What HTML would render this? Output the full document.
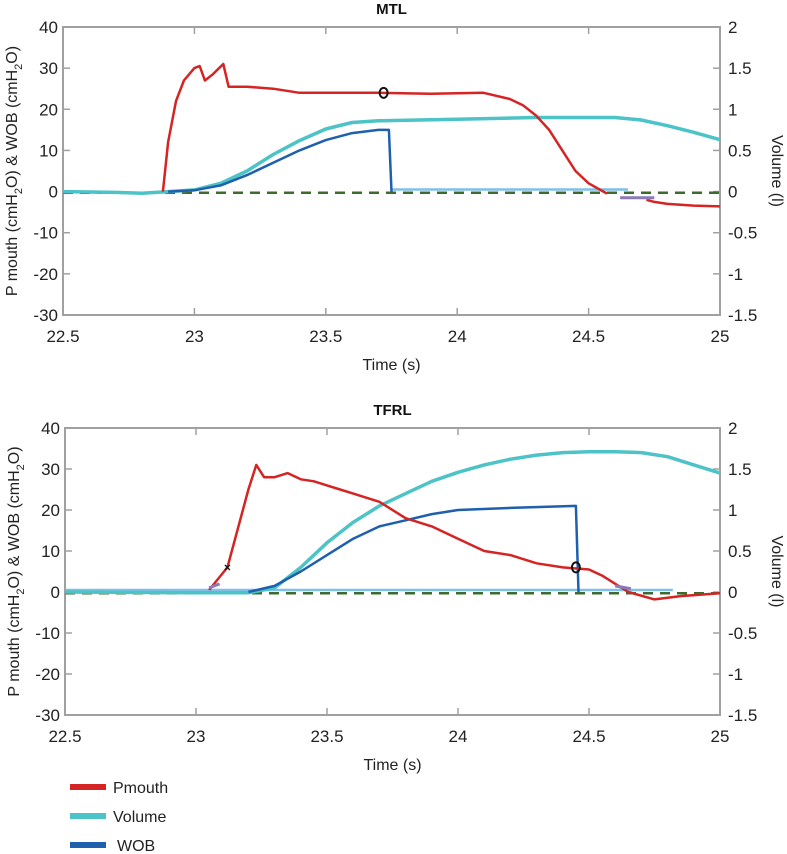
<!DOCTYPE html>
<html><head><meta charset="utf-8"><style>
html,body{margin:0;padding:0;background:#fff;}
svg{display:block;font-family:"Liberation Sans",sans-serif;}
</style></head><body>
<svg id="fig" width="787" height="854" viewBox="0 0 787 854" xmlns="http://www.w3.org/2000/svg"></svg>
<script>
// ---- data ----
const xTicks=[22.5,23,23.5,24,24.5,25];
const xTickLabels=["22.5","23","23.5","24","24.5","25"];
const yTicks=[40,30,20,10,0,-10,-20,-30];
const yTickLabels=["40","30","20","10","0","-10","-20","-30"];
const vTickLabels=["2","1.5","1","0.5","0","-0.5","-1","-1.5"];

const mtlPmouthT=[22.88,22.9,22.93,22.96,23.0,23.02,23.04,23.07,23.11,23.13,23.2,23.3,23.4,23.5,23.7,23.9,24.1,24.2,24.25,24.3,24.35,24.4,24.45,24.5,24.57];
const mtlPmouthV=[0,12,22,27,30,30.5,27,28.5,31,25.5,25.5,25,24,24,24,23.8,24,22.5,21,18.5,15,10,5,2,-0.5];
const mtlPmouth2T=[24.72,24.75,24.8,24.9,25.0];
const mtlPmouth2V=[-2,-2.5,-3,-3.4,-3.6];
const mtlPurpleT=[24.62,24.75];
const mtlPurpleV=[-1.5,-1.5];
const mtlVolumeT=[22.5,22.7,22.8,22.9,23.0,23.1,23.2,23.3,23.4,23.5,23.6,23.7,24.0,24.3,24.6,24.7,24.8,24.9,25.0];
const mtlVolumeV=[0,-0.01,-0.02,0,0.02,0.1,0.25,0.45,0.62,0.76,0.84,0.86,0.88,0.9,0.9,0.87,0.8,0.72,0.63];
const mtlWobT=[22.9,23.0,23.1,23.2,23.3,23.4,23.5,23.6,23.7,23.74,23.75];
const mtlWobV=[0,0.3,1.5,4,7,10,12.5,14.2,15,15,0];
const mtlWobFlatT=[23.75,24.65];
const mtlWobFlatV=[0.5,0.5];
const mtlMarkT=[23.72], mtlMarkV=[24];

const tfrlPmouthT=[23.05,23.12,23.2,23.23,23.26,23.3,23.35,23.4,23.45,23.5,23.55,23.6,23.7,23.8,23.9,24.0,24.1,24.2,24.3,24.4,24.5,24.55,24.6,24.65,24.75,24.85,25.0];
const tfrlPmouthV=[0.5,6,25,31,28,28,29,27.5,27,26,25,24,22,18,16,13,10,9,7,6,5.5,4,2,0,-1.8,-1,-0.3];
const tfrlPurpleT=[23.05,23.09,24.6,24.66];
const tfrlPurpleV=[1,2,1.5,0.8];
const tfrlVolumeT=[22.5,23.0,23.2,23.3,23.4,23.5,23.6,23.7,23.8,23.9,24.0,24.1,24.2,24.3,24.4,24.5,24.6,24.7,24.8,24.9,25.0];
const tfrlVolumeV=[0,-0.01,-0.01,0.05,0.3,0.6,0.85,1.05,1.2,1.35,1.46,1.55,1.62,1.67,1.7,1.71,1.71,1.7,1.65,1.55,1.45];
const tfrlWobT=[23.2,23.3,23.4,23.5,23.6,23.7,23.8,23.9,24.0,24.2,24.45,24.46];
const tfrlWobV=[0,1.5,5,9,13,16,17.5,19,20,20.5,21,0];
const tfrlWobFlatT=[22.5,23.05,24.46,24.82];
const tfrlWobFlatV=[0.5,0.5,0.5,0.5];
const tfrlXT=[23.12], tfrlXV=[6];
const tfrlMarkT=[24.45], tfrlMarkV=[6];

const NS="http://www.w3.org/2000/svg";
const svg=document.getElementById('fig');
function mk(tag,attrs,parent){const e=document.createElementNS(NS,tag);for(const k in attrs)e.setAttribute(k,attrs[k]);(parent||svg).appendChild(e);return e;}

function chart(name,title,top,bottom,left,right,d){
  const g=mk('g',{});
  
  
  const xs=t=>left+(t-22.5)/2.5*(right-left);
  const ys=p=>top+(40-p)/70*(bottom-top);
  const yv=v=>ys(v*20);
  const tt=mk('text',{x:(left+right)/2,y:top-13,'text-anchor':'middle','font-size':15,'font-weight':'bold',fill:'#111'},g);
  tt.textContent=title;
  
  
  const box=mk('rect',{x:left,y:top,width:right-left,height:bottom-top,fill:'none',stroke:'#a0a0a0','stroke-width':2},g);
  
  
  xTicks.forEach((t,i)=>{
    const x=xs(t);
    mk('line',{x1:x,y1:bottom,x2:x,y2:bottom-7,stroke:'#a0a0a0','stroke-width':1.5},g);
    mk('line',{x1:x,y1:top,x2:x,y2:top+7,stroke:'#a0a0a0','stroke-width':1.5},g);
    const l=mk('text',{x:x,y:bottom+27,'text-anchor':'middle','font-size':17,fill:'#222'},g);
    l.textContent=xTickLabels[i];
    
    
  });
  yTicks.forEach((p,i)=>{
    const y=ys(p);
    mk('line',{x1:left,y1:y,x2:left+7,y2:y,stroke:'#a0a0a0','stroke-width':1.5},g);
    mk('line',{x1:right,y1:y,x2:right-7,y2:y,stroke:'#a0a0a0','stroke-width':1.5},g);
    const l=mk('text',{x:left-5,y:y+6,'text-anchor':'end','font-size':17,fill:'#222'},g);
    l.textContent=yTickLabels[i];
    
    
    const r=mk('text',{x:right+8,y:y+6,'text-anchor':'start','font-size':17,fill:'#222'},g);
    r.textContent=vTickLabels[i];
    
    
  });
  const xl=mk('text',{x:(left+right)/2,y:bottom+55,'text-anchor':'middle','font-size':16,fill:'#222'},g);
  xl.textContent='Time (s)';
  
  
  const yl=mk('text',{x:0,y:0,'text-anchor':'middle','font-size':16,fill:'#222',transform:`translate(${left-46},${(top+bottom)/2}) rotate(-90)`},g);
  yl.innerHTML='P mouth (cmH<tspan font-size="11" dy="5">2</tspan><tspan dy="-5">O) &amp; WOB (cmH</tspan><tspan font-size="11" dy="5">2</tspan><tspan dy="-5">O)</tspan>';
  
  
  const vl=mk('text',{x:0,y:0,'text-anchor':'middle','font-size':16,fill:'#222',transform:`translate(${right+52},${ys(5)}) rotate(90)`},g);
  vl.textContent='Volume (l)';
  
  
  const dash=mk('line',{x1:left,y1:ys(-0.3),x2:right,y2:ys(-0.3),stroke:'#3d6b2e','stroke-width':2.5,'stroke-dasharray':'10 7'},g);
  
  
  function line(T,V,f,color,w,nm){
    const pts=T.map((t,i)=>xs(t).toFixed(1)+','+f(V[i]).toFixed(1)).join(' ');
    const p=mk('polyline',{points:pts,fill:'none',stroke:color,'stroke-width':w,'stroke-linejoin':'round'},g);
    
    
  }
  function segs(T,V,color,nm){
    for(let i=0;i+1<T.length;i+=2){
      const s=mk('line',{x1:xs(T[i]),y1:ys(V[i]),x2:xs(T[i+1]),y2:ys(V[i+1]),stroke:color,'stroke-width':3},g);
      
      
    }
  }
  line(d.flatT,d.flatV,ys,'#7fc0e8',2.5,'wob-baseline');
  line(d.volT,d.volV,yv,'#4cc3c6',3.5,'volume-series');
  line(d.wobT,d.wobV,ys,'#1e5fae',2.5,'wob-series');
  line(d.pT,d.pV,ys,'#d42424',2.5,'pmouth-series');
  if(d.p2T)line(d.p2T,d.p2V,ys,'#d42424',2.5,'pmouth-series-tail');
  if(d.purT)segs(d.purT,d.purV,'#8a7ab8','pmouth-phase-marker');
  d.markT.forEach((t,i)=>{
    const c=mk('ellipse',{cx:xs(t),cy:ys(d.markV[i]),rx:4,ry:5,fill:'none',stroke:'#111','stroke-width':2},g);
    
    
  });
  if(d.xT)d.xT.forEach((t,i)=>{
    const m=mk('text',{x:xs(t),y:ys(d.xV[i])+4,'text-anchor':'middle','font-size':12,'font-weight':'bold',fill:'#111'},g);
    m.textContent='×';
    
    
  });
}
chart('mtl','MTL',27,315,63,720,{pT:mtlPmouthT,pV:mtlPmouthV,p2T:mtlPmouth2T,p2V:mtlPmouth2V,purT:mtlPurpleT,purV:mtlPurpleV,volT:mtlVolumeT,volV:mtlVolumeV,wobT:mtlWobT,wobV:mtlWobV,flatT:mtlWobFlatT,flatV:mtlWobFlatV,markT:mtlMarkT,markV:mtlMarkV});
chart('tfrl','TFRL',428,715,65,720,{pT:tfrlPmouthT,pV:tfrlPmouthV,purT:tfrlPurpleT,purV:tfrlPurpleV,volT:tfrlVolumeT,volV:tfrlVolumeV,wobT:tfrlWobT,wobV:tfrlWobV,flatT:tfrlWobFlatT,flatV:tfrlWobFlatV,markT:tfrlMarkT,markV:tfrlMarkV,xT:tfrlXT,xV:tfrlXV});

// legend
const legendLabels=["Pmouth","Volume","WOB"];
const legendColors=["#d42424","#4cc3c6","#1e5fae"];
const lg=mk('g',{});


legendLabels.forEach((lab,i)=>{
  const y=787+i*29;
  const r=mk('rect',{x:70,y:y-3,width:36,height:6,fill:legendColors[i]},lg);
  
  
  const t=mk('text',{x:113+(i==2?4:0),y:y+6,'font-size':16,fill:'#222'},lg);
  t.textContent=lab;
  
  
});
</script>
</body></html>
